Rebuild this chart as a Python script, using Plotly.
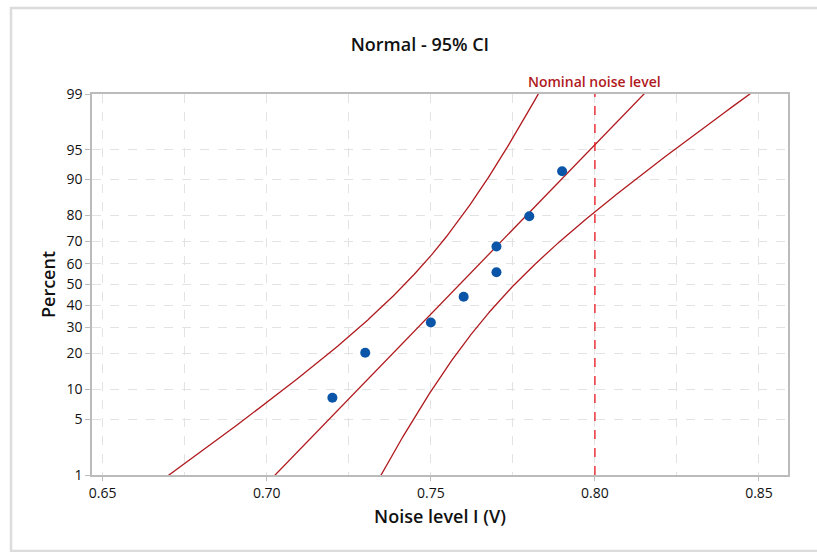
import numpy as np
import plotly.graph_objects as go
from statistics import NormalDist

# ---- data ----
noise = [0.72, 0.73, 0.75, 0.76, 0.77, 0.77, 0.78, 0.79]
nominal = 0.80
pct_ticks = [1, 5, 10, 20, 30, 40, 50, 60, 70, 80, 90, 95, 99]
x_ticks = [0.65, 0.70, 0.75, 0.80, 0.85]

nd = NormalDist()
z = lambda p: nd.inv_cdf(p / 100.0)

x = np.sort(np.array(noise))
n = len(x)
ranks = (np.arange(1, n + 1) - 0.3) / (n + 0.4) * 100  # median ranks
zpts = [z(p) for p in ranks]

mu = x.mean()
sd = x.std(ddof=1)
pgrid = np.linspace(0.5, 99.5, 400)
zg = np.array([z(p) for p in pgrid])
fit = mu + zg * sd
se = np.sqrt(sd**2 / n + zg**2 * sd**2 / (2 * n))
lo = fit - 1.96 * se
hi = fit + 1.96 * se

red = "#B01A1E"
fig = go.Figure()
for xs in (lo, fit, hi):
    fig.add_trace(go.Scatter(x=xs, y=zg, mode="lines", line=dict(color=red, width=1.3),
                             hoverinfo="skip", showlegend=False))
fig.add_trace(go.Scatter(x=x, y=zpts, mode="markers",
                         marker=dict(color="#0B55A8", size=10), showlegend=False))

fig.add_shape(type="line", x0=nominal, x1=nominal, y0=0, y1=1, yref="paper",
              line=dict(color="#E8141C", width=1.3, dash="dash"))
fig.add_annotation(x=nominal, y=1, yref="paper", yanchor="bottom", yshift=1,
                   text="Nominal noise level", showarrow=False,
                   font=dict(color="#B01A1E", size=14, weight=600))
# outer border
fig.add_shape(type="rect", xref="paper", yref="paper",
              x0=(11 - 92) / 696, x1=(830 - 92) / 696,
              y0=(475 - 551) / 381, y1=(475 - 8) / 381,
              line=dict(color="#DCDCDC", width=2.5), layer="below")

fig.update_layout(
    width=817, height=552,
    margin=dict(l=92, r=29, t=94, b=77),
    paper_bgcolor="white", plot_bgcolor="white",
    font=dict(family="Open Sans, Noto Sans, sans-serif", color="#111", size=12),
    title=dict(text="Normal - 95% CI", x=0.514, xanchor="center", y=1 - 45 / 552, yanchor="middle",
               font=dict(size=18, weight=600, color="#111")),
)
fig.update_xaxes(
    range=[0.65 - 10.7 / 3280, 0.85 + 29 / 3280],
    tickvals=x_ticks, ticktext=[f"{v:.2f}" for v in x_ticks],
    ticks="outside", ticklen=4, tickcolor="#BBBBBB",
    showgrid=True, gridcolor="#E3E3E3", griddash="dash", gridwidth=1.2,
    minor=dict(dtick=0.025, tick0=0.65, showgrid=True, gridcolor="#E3E3E3", griddash="dash", gridwidth=1.2),
    showline=True, linecolor="#BBBBBB", linewidth=1.5, mirror=True,
    zeroline=False, tickfont=dict(size=14),
    title=dict(text="Noise level I (V)", font=dict(size=18, weight=600), standoff=10),
)
fig.update_yaxes(
    range=[z(1), z(99)],
    tickvals=[z(p) for p in pct_ticks], ticktext=[str(p) for p in pct_ticks],
    ticks="outside", ticklen=5, tickcolor="#BBBBBB",
    showgrid=True, gridcolor="#E3E3E3", griddash="dash", gridwidth=1.2,
    showline=True, linecolor="#BBBBBB", linewidth=1.5, mirror=True,
    zeroline=False, tickfont=dict(size=14),
    title=dict(text="Percent", font=dict(size=18, weight=600), standoff=6),
)
fig.write_html("out.html")
